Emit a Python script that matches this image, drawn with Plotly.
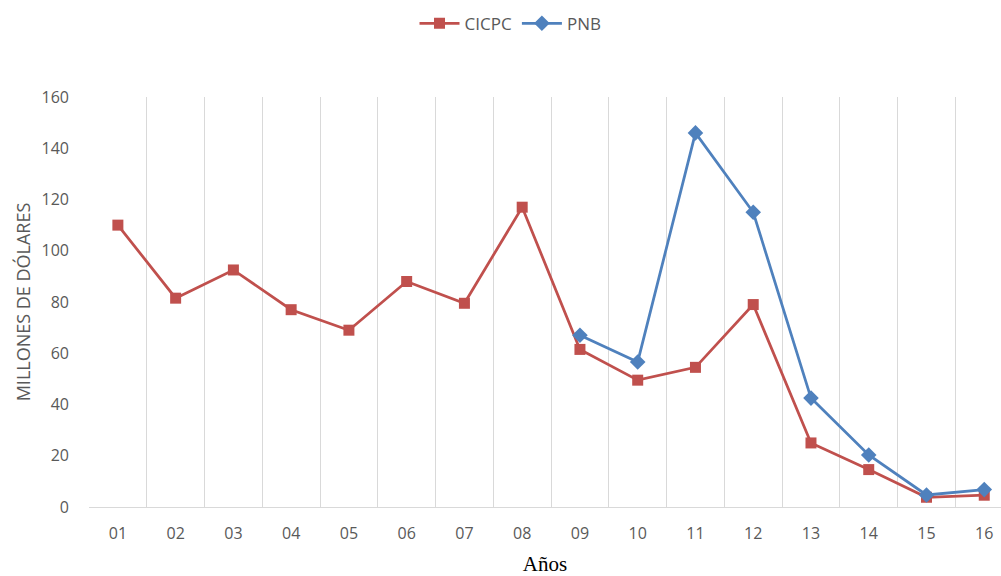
import plotly.graph_objects as go

years = ["01", "02", "03", "04", "05", "06", "07", "08", "09", "10", "11", "12", "13", "14", "15", "16"]
cicpc = [110, 81.5, 92.5, 77, 69, 88, 79.5, 117, 61.5, 49.5, 54.5, 79, 25, 14.6, 3.8, 4.6]
pnb = [None, None, None, None, None, None, None, None, 67, 56.6, 146, 115, 42.5, 20.3, 4.7, 6.8]

xs = list(range(len(years)))
red = "#C0504D"
blue = "#4F81BD"

fig = go.Figure()
fig.add_trace(go.Scatter(x=xs, y=cicpc, name="CICPC", mode="lines+markers",
                         line=dict(color=red, width=2.75),
                         marker=dict(symbol="square", size=11, color=red)))
fig.add_trace(go.Scatter(x=xs, y=pnb, name="PNB", mode="lines+markers",
                         line=dict(color=blue, width=2.75),
                         marker=dict(symbol="diamond", size=12, color=blue)))

fig.update_layout(
    width=1001, height=576,
    margin=dict(l=89, r=0, t=97, b=69),
    paper_bgcolor="white", plot_bgcolor="white",
    font=dict(family="Open Sans", color="#595959"),
    legend=dict(orientation="h", x=0.51, xanchor="center", xref="container",
                y=0.99, yanchor="top", yref="container",
                font=dict(size=17, color="#595959"),
                itemwidth=40, traceorder="normal"),
    showlegend=True,
)

fig.update_xaxes(
    range=[-0.5, 15.29], tickmode="array", tickvals=xs, ticktext=years,
    showgrid=False, zeroline=False,
    showline=True, linecolor="#D9D9D9", linewidth=1,
    tickfont=dict(size=16, color="#595959"), ticks="", ticklabelstandoff=12,
    minor=dict(tickmode="linear", tick0=-0.5, dtick=1, showgrid=True,
               gridcolor="#D9D9D9", gridwidth=1),
    title=dict(text="Años", font=dict(family="Liberation Serif", size=21, color="#000000"),
               standoff=15),
)
fig.update_yaxes(
    range=[0, 160], dtick=20, showgrid=False, zeroline=False, showline=False,
    tickfont=dict(size=16, color="#595959"), ticks="", ticklabelstandoff=19,
    title=dict(text="MILLONES DE DÓLARES", font=dict(size=18, color="#595959"), standoff=6),
)

fig.write_html("out.html")
